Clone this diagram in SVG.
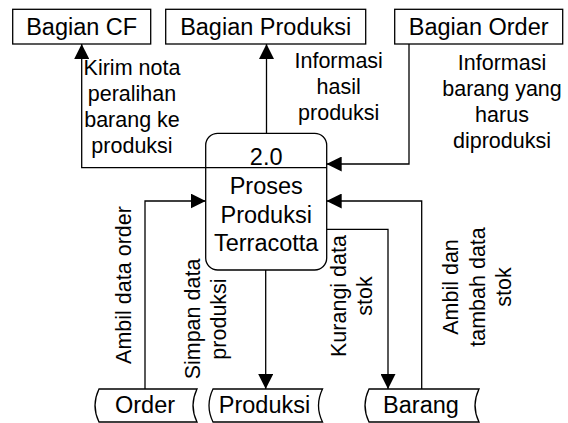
<svg xmlns="http://www.w3.org/2000/svg" width="568" height="423" viewBox="0 0 568 423">
<style>
.box{fill:#fff;stroke:#000;stroke-width:1.3}
.ln{fill:none;stroke:#000;stroke-width:1.3}
.nt{font-family:"Liberation Sans",Arial,sans-serif;font-size:23.5px;fill:#000;text-anchor:middle}
.lb{font-family:"Liberation Sans",Arial,sans-serif;font-size:21.5px;fill:#000;text-anchor:middle}
</style>
<defs>
<marker id="ah" markerUnits="userSpaceOnUse" markerWidth="15" markerHeight="15" refX="15" refY="7.5" orient="auto">
<path d="M0,0 L15,7.5 L0,15 z" fill="#000"/>
</marker>
</defs>
<rect width="568" height="423" fill="#fff"/>
<g id="connectors">
<path class="ln" d="M205.7,167.7 H81.7 V44" marker-end="url(#ah)"/>
<path class="ln" d="M266.5,133.3 V44" marker-end="url(#ah)"/>
<path class="ln" d="M409,44 V164 H326.7" marker-end="url(#ah)"/>
<path class="ln" d="M145,389 V201 H205.7" marker-end="url(#ah)"/>
<path class="ln" d="M265.7,270 V389" marker-end="url(#ah)"/>
<path class="ln" d="M326.7,229.3 H388 V389" marker-end="url(#ah)"/>
<path class="ln" d="M421.7,389 V201 H326.7" marker-end="url(#ah)"/>
<text class="lb"><tspan x="132" y="74.5">Kirim nota</tspan><tspan x="132" y="100.5">peralihan</tspan><tspan x="132" y="126.5">barang ke</tspan><tspan x="132" y="152.5">produksi</tspan></text>
<text class="lb"><tspan x="338.7" y="68">Informasi</tspan><tspan x="338.7" y="94">hasil</tspan><tspan x="338.7" y="120">produksi</tspan></text>
<text class="lb"><tspan x="502" y="69.5">Informasi</tspan><tspan x="502" y="95.5">barang yang</tspan><tspan x="502" y="121.5">harus</tspan><tspan x="502" y="147.5">diproduksi</tspan></text>
<text class="lb" transform="translate(131,285) rotate(-90)" x="0" y="0">Ambil data order</text>
<text class="lb" transform="translate(200,319) rotate(-90)"><tspan x="0" y="0">Simpan data</tspan><tspan x="0" y="26">produksi</tspan></text>
<text class="lb" transform="translate(346,296) rotate(-90)"><tspan x="0" y="0">Kurangi data</tspan><tspan x="0" y="26">stok</tspan></text>
<text class="lb" transform="translate(458,287) rotate(-90)"><tspan x="0" y="0">Ambil dan</tspan><tspan x="0" y="26.5">tambah data</tspan><tspan x="0" y="53">stok</tspan></text>
</g>
<g id="bagian-cf">
<rect class="box" x="12.7" y="9.3" width="138" height="34.7"/>
<text class="nt" x="81.7" y="34.7">Bagian CF</text>
</g>
<g id="bagian-produksi">
<rect class="box" x="165.7" y="9.3" width="200" height="34.7"/>
<text class="nt" x="265.7" y="34.7">Bagian Produksi</text>
</g>
<g id="bagian-order">
<rect class="box" x="394.7" y="9.3" width="168" height="34.7"/>
<text class="nt" x="478.7" y="34.7">Bagian Order</text>
</g>
<g id="proses-2-0">
<rect class="box" x="205.7" y="133.3" width="121" height="136.7" rx="12" ry="12"/>
<line class="ln" x1="205.7" y1="167.7" x2="326.7" y2="167.7"/>
<text class="nt" x="266.2" y="165">2.0</text>
<text class="nt"><tspan x="266.2" y="194">Proses</tspan><tspan x="266.2" y="222.5">Produksi</tspan><tspan x="266.2" y="251">Terracotta</tspan></text>
</g>
<g id="store-order">
<path class="box" d="M99,389 H197 Q189,405.5 197,422 H99 Q91,405.5 99,389 z"/>
<text class="nt" x="145" y="413">Order</text>
</g>
<g id="store-produksi">
<path class="box" d="M213,389 H322.5 Q314.5,405.5 322.5,422 H213 Q205,405.5 213,389 z"/>
<text class="nt" x="264.5" y="413">Produksi</text>
</g>
<g id="store-barang">
<path class="box" d="M369,389 H479 Q471,405.5 479,422 H369 Q361,405.5 369,389 z"/>
<text class="nt" x="421" y="413">Barang</text>
</g>
</svg>
